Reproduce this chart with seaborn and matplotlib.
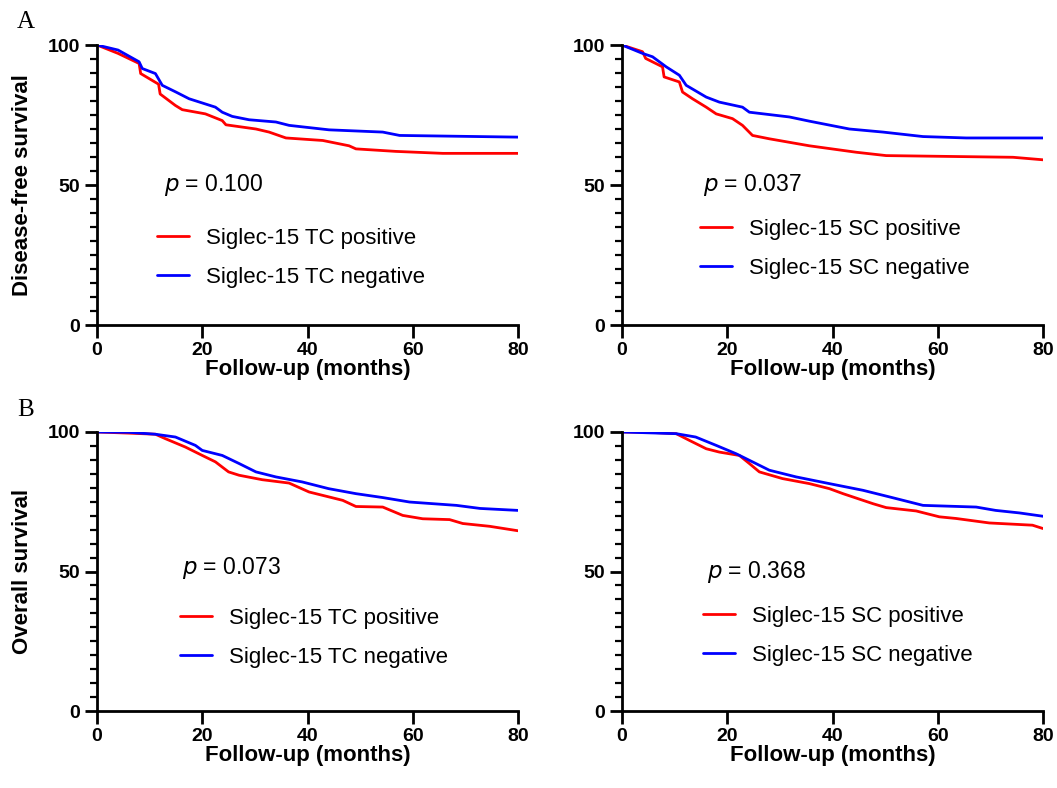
import matplotlib
matplotlib.use("Agg")
import matplotlib.pyplot as plt
from matplotlib.ticker import MultipleLocator
import pandas as pd
import seaborn as sns

# ─── Data (months, % surviving) ──────────────────────────────────────────────
DFS_TC_POS_T = [0, 4, 8, 8.3, 11.7, 12, 14.9, 16.2, 20.6, 23.8, 24.5, 30.2, 32.7, 35.9, 42.9, 47.9, 49.2, 56.8, 65.7, 80]
DFS_TC_POS_S = [100, 97, 93.4, 89.8, 86, 82.5, 78.4, 76.9, 75.4, 73, 71.5, 70, 68.9, 66.8, 65.9, 64, 62.9, 62, 61.3, 61.3]
DFS_TC_NEG_T = [0, 4, 8, 8.6, 11.1, 12.4, 15, 17.5, 22.5, 23.8, 25.7, 28.9, 34, 36.5, 44.1, 54.3, 57.5, 80]
DFS_TC_NEG_S = [100, 98.2, 94, 91.6, 89.8, 85.6, 83.2, 80.8, 77.8, 76, 74.5, 73.3, 72.5, 71.3, 69.7, 68.9, 67.7, 67.1]

DFS_SC_POS_T = [0, 3.9, 4.5, 7.7, 8, 10.9, 11.5, 13.4, 16, 17.9, 21, 22.9, 24.8, 28, 35.6, 44.5, 50.2, 74.3, 80]
DFS_SC_POS_S = [100, 97.6, 95.2, 92.2, 88.6, 86.8, 83.2, 80.8, 77.8, 75.4, 73.7, 71.3, 67.7, 66.5, 64, 61.7, 60.5, 59.9, 59]
DFS_SC_NEG_T = [0, 3.9, 5.8, 8.4, 10.9, 12.2, 16, 18.5, 22.9, 24.2, 31.8, 35.6, 43.2, 49.6, 57.2, 65.4, 80]
DFS_SC_NEG_S = [100, 97, 95.8, 92.2, 89.2, 85.6, 81.4, 79.6, 77.8, 76, 74.3, 72.8, 70, 68.9, 67.3, 66.8, 66.8]

OS_TC_POS_T = [0, 6, 11.1, 13, 16.8, 20, 22.5, 25, 27, 31.4, 36.5, 40.3, 46.7, 49.2, 54.3, 58.1, 61.9, 67, 69.5, 74.6, 80]
OS_TC_POS_S = [100, 99.6, 99.2, 97.6, 94.6, 91.6, 89.3, 85.7, 84.5, 82.9, 81.7, 78.5, 75.5, 73.3, 73.1, 70.1, 68.9, 68.6, 67.2, 66.2, 64.6]
OS_TC_NEG_T = [0, 6, 11.1, 14.9, 18.7, 20, 23.8, 27, 30.2, 34, 39, 44, 49.2, 54.3, 59.4, 68.3, 72.8, 80]
OS_TC_NEG_S = [100, 99.9, 99.2, 98.2, 95.2, 93.4, 91.6, 88.7, 85.7, 83.9, 82.1, 79.7, 77.9, 76.5, 74.9, 73.7, 72.6, 71.9]

OS_SC_POS_T = [0, 5.2, 10.3, 12.8, 16, 18.5, 22.3, 24.2, 26.1, 30.5, 35.6, 39.4, 42, 47.7, 50.2, 55.9, 60.3, 63.5, 69.8, 78, 80]
OS_SC_POS_S = [100, 99.9, 99.4, 97, 94, 92.8, 91.6, 88.7, 85.7, 83.3, 81.5, 79.7, 77.9, 74.3, 72.9, 71.7, 69.6, 69, 67.4, 66.6, 65.4]
OS_SC_NEG_T = [0, 10.3, 14, 17.9, 21.7, 24.8, 28, 33.1, 39.4, 45.8, 50.9, 57.2, 67.3, 71, 75.5, 80]
OS_SC_NEG_S = [100, 99.4, 98.2, 95.2, 92.2, 89.3, 86.3, 83.9, 81.5, 79.1, 76.7, 73.7, 73.1, 71.9, 71, 69.8]

P_VALUES = ["0.100", "0.037", "0.073", "0.368"]
Y_LABELS = ["Disease-free survival", "Overall survival"]
X_LABEL = "Follow-up (months)"

PANELS = [
    (DFS_TC_POS_T, DFS_TC_POS_S, DFS_TC_NEG_T, DFS_TC_NEG_S, "TC"),
    (DFS_SC_POS_T, DFS_SC_POS_S, DFS_SC_NEG_T, DFS_SC_NEG_S, "SC"),
    (OS_TC_POS_T, OS_TC_POS_S, OS_TC_NEG_T, OS_TC_NEG_S, "TC"),
    (OS_SC_POS_T, OS_SC_POS_S, OS_SC_NEG_T, OS_SC_NEG_S, "SC"),
]

sns.set_style("ticks", {"axes.edgecolor": "black", "text.color": "black",
                        "xtick.color": "black", "ytick.color": "black",
                        "axes.labelcolor": "black"})
plt.rcParams["font.family"] = ["Liberation Sans", "DejaVu Sans"]

W, H = 1057, 788
fig = plt.figure(figsize=(W / 100, H / 100), dpi=100)

# axes boxes in pixels: left, top, right, bottom
boxes = [(97, 45, 518, 325), (622, 45, 1043, 325),
         (97, 432, 518, 711), (622, 432, 1043, 711)]
# p-value text position and legend (handle start, middle of rows), pixels
text_pos = [(164, 185), (703, 185), (182, 568), (707, 572)]
leg_pos = [(157, 258), (700, 249), (180, 638), (703, 636)]

for i, (box, panel) in enumerate(zip(boxes, PANELS)):
    l, t, r, b = box
    ax = fig.add_axes([l / W, 1 - b / H, (r - l) / W, (b - t) / H])
    pos_t, pos_s, neg_t, neg_s, kind = panel
    lab_pos = f"Siglec-15 {kind} positive"
    lab_neg = f"Siglec-15 {kind} negative"
    df = pd.concat([
        pd.DataFrame({"month": pos_t, "surv": pos_s, "group": lab_pos}),
        pd.DataFrame({"month": neg_t, "surv": neg_s, "group": lab_neg}),
    ])
    sns.lineplot(data=df, x="month", y="surv", hue="group",
                 palette={lab_pos: "#ff0000", lab_neg: "#0000ff"},
                 estimator=None, sort=False, linewidth=2.0, ax=ax)

    ax.set_xlim(0, 80)
    ax.set_ylim(0, 100)
    ax.xaxis.set_major_locator(MultipleLocator(20))
    ax.yaxis.set_major_locator(MultipleLocator(50))
    ax.yaxis.set_minor_locator(MultipleLocator(5))
    ax.tick_params(which="major", direction="out", length=9, width=2,
                   labelsize=14, pad=3)
    ax.tick_params(which="minor", direction="out", length=5, width=1.6)
    for lbl in ax.get_xticklabels() + ax.get_yticklabels():
        lbl.set_fontweight("bold")
    sns.despine(ax=ax)
    for s in ("left", "bottom"):
        ax.spines[s].set_linewidth(2)
    ax.set_xlabel(X_LABEL, fontsize=16, fontweight="bold", labelpad=0)
    if i % 2 == 0:
        ax.set_ylabel(Y_LABELS[i // 2], fontsize=16, fontweight="bold")
        ax.yaxis.set_label_coords((33 - l) / (r - l), 0.5)
    else:
        ax.set_ylabel("")

    tx, ty = text_pos[i]
    fig.text(tx / W, 1 - ty / H, r"$\it{p}$" + f" = {P_VALUES[i]}",
             fontsize=16.5, va="center")
    lx, ly = leg_pos[i]
    ax.legend(loc="center left",
              bbox_to_anchor=((lx - l) / (r - l), 1 - (ly - t) / (b - t)),
              frameon=False, fontsize=16, handlelength=1.45, handletextpad=0.75,
              labelspacing=0.8, borderaxespad=0, borderpad=0, title=None)

fig.text(17 / W, 1 - 22 / H, "A", fontsize=18, family="Liberation Serif", va="center")
fig.text(17 / W, 1 - 410 / H, "B", fontsize=18, family="Liberation Serif", va="center")

fig.savefig("out.png", dpi=100)
